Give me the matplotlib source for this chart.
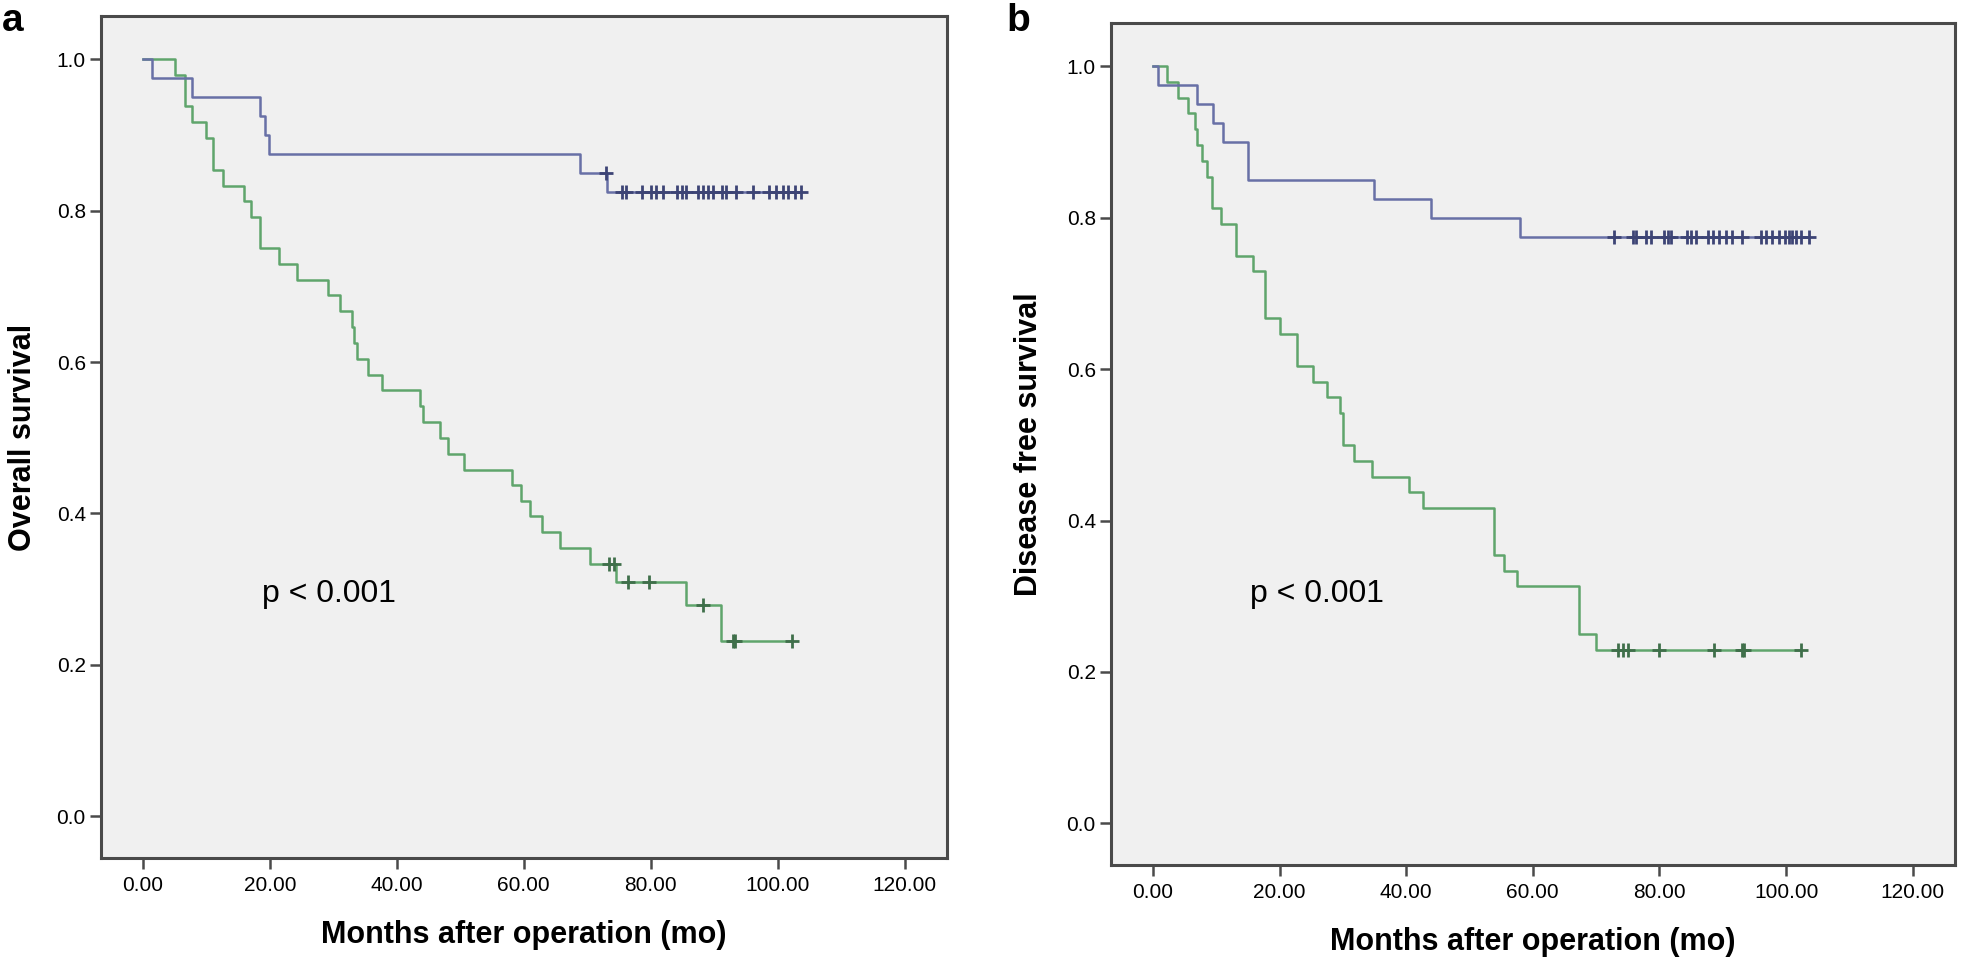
import numpy as np
import matplotlib
matplotlib.use('Agg')
import matplotlib.pyplot as plt

# ---- panel a: overall survival ----
a_blue_t = [0, 1.4, 7.7, 18.4, 19.2, 19.9, 68.8, 73.1, 103.7]
a_blue_s = [1.0, 0.975, 0.95, 0.925, 0.90, 0.875, 0.85, 0.825, 0.825]
a_blue_cens = [72.9, 75.5, 76.1, 78.6, 80.1, 80.9, 81.9, 84.1, 84.9, 85.5, 87.5, 88.3,
               89.1, 89.8, 91.2, 91.9, 93.5, 96.1, 98.7, 99.8, 100.9, 101.6, 102.7, 103.7]

a_green_t = [0, 5.0, 6.6, 7.7, 10.0, 11.1, 12.6, 16.0, 17.1, 18.5, 21.5, 24.3, 29.2, 31.0,
             32.9, 33.3, 33.7, 35.5, 37.6, 43.6, 44.2, 46.8, 48.1, 50.6, 58.2, 59.5, 61.0,
             62.8, 65.7, 70.5, 74.5, 85.6, 91.1, 102.3]
a_green_s = [1.0, 0.979, 0.938, 0.917, 0.896, 0.854, 0.833, 0.813, 0.792, 0.75, 0.729, 0.708,
             0.688, 0.667, 0.646, 0.625, 0.604, 0.583, 0.563, 0.542, 0.521, 0.5, 0.479, 0.458,
             0.438, 0.417, 0.396, 0.375, 0.354, 0.333, 0.310, 0.279, 0.232, 0.232]
a_green_cens = [73.5, 74.3, 76.4, 79.8, 88.2, 92.9, 93.3, 102.3]

# ---- panel b: disease free survival ----
b_blue_t = [0, 0.8, 6.9, 9.5, 11.1, 15.1, 34.9, 43.9, 58.0, 103.6]
b_blue_s = [1.0, 0.975, 0.95, 0.925, 0.90, 0.85, 0.825, 0.80, 0.775, 0.775]
b_blue_cens = [72.9, 75.8, 76.3, 77.9, 78.7, 80.8, 81.3, 81.8, 84.4, 85.0, 85.8, 87.6, 88.4,
               89.4, 90.5, 91.5, 93.1, 96.0, 96.8, 97.8, 98.9, 99.9, 100.5, 101.0, 101.5,
               102.3, 103.6]

b_green_t = [0, 2.2, 4.0, 5.6, 6.6, 6.9, 7.7, 8.5, 9.3, 10.8, 13.2, 15.8, 17.7, 20.0, 22.8,
             25.3, 27.5, 29.5, 30.0, 31.7, 34.6, 40.4, 42.6, 53.8, 55.4, 57.5, 67.3, 70.0, 102.3]
b_green_s = [1.0, 0.979, 0.958, 0.938, 0.917, 0.896, 0.875, 0.854, 0.813, 0.792, 0.75, 0.729,
             0.667, 0.646, 0.604, 0.583, 0.563, 0.542, 0.5, 0.479, 0.458, 0.438, 0.417, 0.354,
             0.333, 0.313, 0.25, 0.229, 0.229]
b_green_cens = [73.4, 74.2, 75.0, 80.0, 88.6, 93.0, 93.4, 102.3]

x_ticks = [0, 20, 40, 60, 80, 100, 120]
y_ticks = [0.0, 0.2, 0.4, 0.6, 0.8, 1.0]

BLUE = '#6870a6'
BLUE_MARK = '#3d4475'
GREEN = '#5fa56c'
GREEN_MARK = '#3f6f4a'
SPINE = '#4a4a4a'

plt.rcParams['font.family'] = ['Liberation Sans', 'DejaVu Sans']


def surv_at(times, surv, t):
    """step-function lookup of survival at censor times"""
    idx = np.searchsorted(times, t, side='right') - 1
    return np.asarray(surv)[idx]


def draw_panel(ax, blue, green, ylabel, p_xy, ylab_x):
    ax.set_facecolor('#f0f0f0')
    for t, s, c, col, mcol in (green + (GREEN, GREEN_MARK), blue + (BLUE, BLUE_MARK)):
        ax.step(t, s, where='post', color=col, linewidth=1.8)
        ax.plot(c, surv_at(t, s, c), linestyle='none', marker='+', markersize=10,
                markeredgewidth=2.0, color=mcol)

    ax.set_xlim(-6.6, 126.7)
    ax.set_ylim(-0.055, 1.057)
    ax.set_xticks(x_ticks)
    ax.set_xticklabels([f'{v:.2f}' for v in x_ticks])
    ax.set_yticks(y_ticks)
    ax.set_yticklabels([f'{v:.1f}' for v in y_ticks])
    ax.tick_params(direction='out', length=8, width=1.8, color=SPINE, labelsize=15,
                   top=False, right=False)
    ax.tick_params(axis='x', pad=5)
    ax.tick_params(axis='y', pad=3)
    for sp in ax.spines.values():
        sp.set_color(SPINE)
        sp.set_linewidth(2.2)

    ax.set_xlabel('Months after operation (mo)', fontsize=22, fontweight='bold')
    ax.xaxis.set_label_coords(0.5, -0.074)
    ax.set_ylabel(ylabel, fontsize=22, fontweight='bold')
    ax.yaxis.set_label_coords(ylab_x, 0.5)
    ax.text(p_xy[0], p_xy[1], 'p < 0.001', fontsize=23, ha='center', va='center')


def main():
    fig = plt.figure(figsize=(19.62, 9.69), dpi=100)
    ax_a = fig.add_axes([0.0515, 0.1146, 0.4312, 0.8689])
    ax_b = fig.add_axes([0.5663, 0.1073, 0.4302, 0.8689])

    draw_panel(ax_a, (a_blue_t, a_blue_s, a_blue_cens), (a_green_t, a_green_s, a_green_cens),
               'Overall survival', (29.3, 0.293), -0.075)
    draw_panel(ax_b, (b_blue_t, b_blue_s, b_blue_cens), (b_green_t, b_green_s, b_green_cens),
               'Disease free survival', (25.9, 0.303), -0.08)

    fig.text(0.001, 0.997, 'a', fontsize=28, fontweight='bold', va='top', ha='left')
    fig.text(0.513, 0.997, 'b', fontsize=28, fontweight='bold', va='top', ha='left')

    fig.savefig('out.png', dpi=100, facecolor='white')
    plt.close(fig)


if __name__ == '__main__':
    main()
